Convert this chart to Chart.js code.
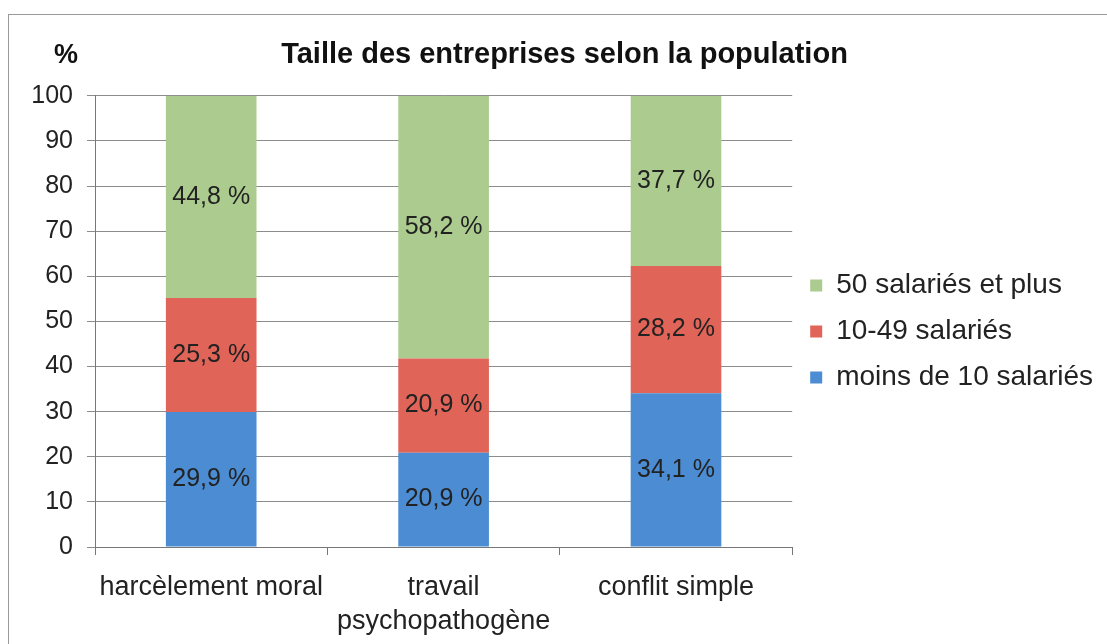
<!DOCTYPE html>
<html>
<head>
<meta charset="utf-8">
<script src="https://cdn.jsdelivr.net/npm/chart.js@4"></script>
<style>
  html, body { margin: 0; padding: 0; background: #fff; }
  #wrap { position: relative; width: 1107px; height: 644px; overflow: hidden; }
  #frame { position: absolute; left: 8px; top: 14px; width: 1200px; height: 700px;
           border-top: 1px solid #9a9a9a; border-left: 1px solid #9a9a9a; }
  canvas { position: absolute; left: 0; top: 0; }
</style>
</head>
<body>
<div id="wrap">
  <div id="frame"></div>
  <canvas id="chart" width="1107" height="644"></canvas>
</div>
<script>
// categories and series (percent)
const categories = ['harcèlement moral', ['travail', 'psychopathogène'], 'conflit simple'];
const moinsDe10 = [29.9, 20.9, 34.1];
const de10a49 = [25.3, 20.9, 28.2];
const plusDe50 = [44.8, 58.2, 37.7];
const yTicks = [0, 10, 20, 30, 40, 50, 60, 70, 80, 90, 100];

const fontFamily = '"Liberation Sans", Arial, sans-serif';

// write the value in the middle of every bar segment
const segmentLabels = {
    id: 'segmentLabels',
    afterDatasetsDraw(chart) {
        const ctx = chart.ctx;
        ctx.save();
        ctx.font = '25px ' + fontFamily;
        ctx.fillStyle = '#222';
        ctx.textAlign = 'center';
        ctx.textBaseline = 'middle';
        chart.data.datasets.forEach((ds, i) => {
            const meta = chart.getDatasetMeta(i);
            meta.data.forEach((bar, j) => {
                const p = bar.getCenterPoint();
                const txt = ds.data[j].toFixed(1).replace('.', ',') + ' %';
                ctx.fillText(txt, p.x, p.y);
            });
        });
        ctx.restore();
    }
};

// the "%" unit sits above the y axis
const unitLabel = {
    id: 'unitLabel',
    afterDraw(chart) {
        const ctx = chart.ctx;
        ctx.save();
        ctx.font = 'bold 27px ' + fontFamily;
        ctx.fillStyle = '#111';
        ctx.textAlign = 'center';
        ctx.textBaseline = 'middle';
        ctx.fillText('%', 66, 56);
        ctx.restore();
    }
};

const ctx = document.getElementById('chart').getContext('2d');
new Chart(ctx, {
    type: 'bar',
    data: {
        labels: categories,
        datasets: [
            { label: 'moins de 10 salariés', data: moinsDe10, backgroundColor: '#4b8cd2' },
            { label: '10-49 salariés', data: de10a49, backgroundColor: '#e16458' },
            { label: '50 salariés et plus', data: plusDe50, backgroundColor: '#accb8f' }
        ]
    },
    options: {
        responsive: false,
        animation: false,
        barPercentage: 0.39,
        categoryPercentage: 1,
        layout: { padding: { left: 26, right: 4, top: 14, bottom: 5 } },
        plugins: {
            title: {
                display: true,
                text: 'Taille des entreprises selon la population',
                color: '#111',
                font: { family: fontFamily, size: 29, weight: 'bold' },
                padding: { top: 24, bottom: 23 }
            },
            legend: {
                position: 'right',
                fullSize: false,
                reverse: true,
                maxWidth: 340,
                // empty title only pushes the items down a little
                title: { display: true, text: ' ', font: { size: 10 }, padding: 4 },
                labels: {
                    boxWidth: 12,
                    boxHeight: 12,
                    padding: 18,
                    color: '#222',
                    font: { family: fontFamily, size: 28 }
                }
            },
            tooltip: { enabled: false }
        },
        scales: {
            x: {
                stacked: true,
                afterFit: (scale) => { scale.height = 92; },
                grid: {
                    drawOnChartArea: false,
                    drawTicks: true,
                    tickLength: 8,
                    color: '#777'
                },
                border: { color: '#777' },
                ticks: {
                    color: '#222',
                    padding: 16,
                    maxRotation: 0,
                    font: { family: fontFamily, size: 27, lineHeight: 1.25 }
                }
            },
            y: {
                stacked: true,
                min: 0,
                max: 100,
                afterFit: (scale) => { scale.width = 69; },
                afterBuildTicks: (scale) => { scale.ticks = yTicks.map(v => ({ value: v })); },
                grid: { color: '#8c8c8c', tickLength: 8 },
                border: { color: '#777' },
                ticks: {
                    color: '#222',
                    padding: 14,
                    font: { family: fontFamily, size: 25 }
                }
            }
        }
    },
    plugins: [segmentLabels, unitLabel]
});
</script>
</body>
</html>
